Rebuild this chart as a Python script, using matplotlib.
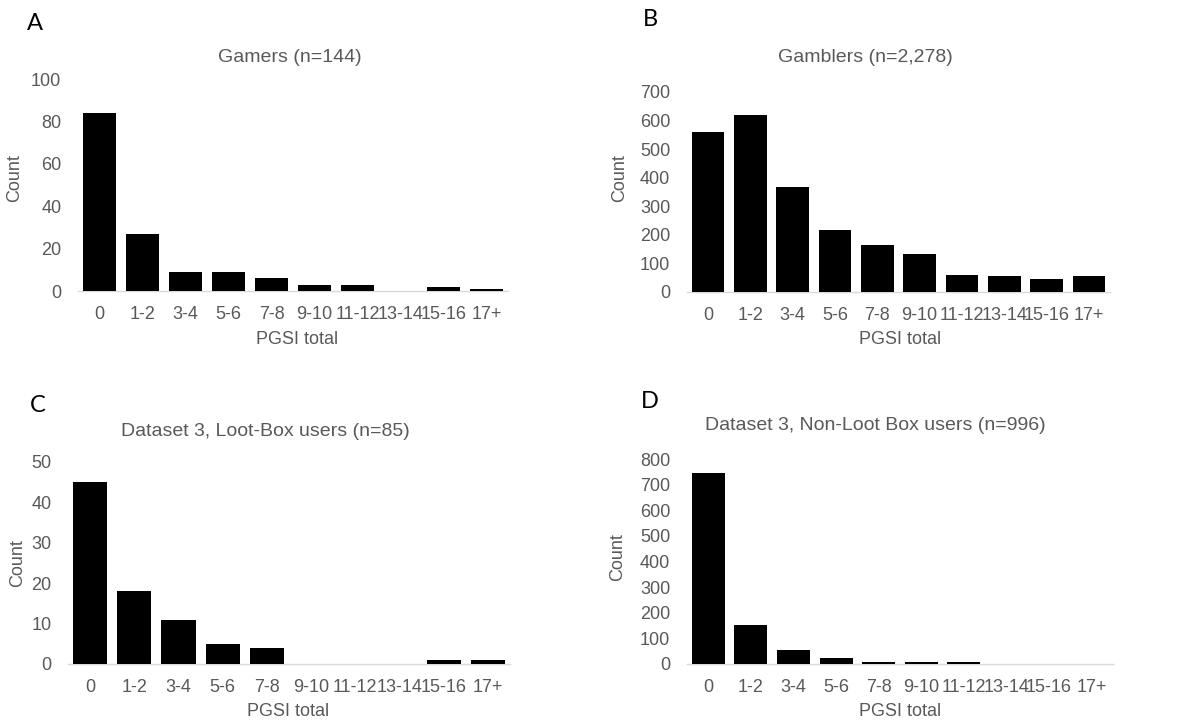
import matplotlib.pyplot as plt

# PGSI categories shared by all four panels
categories = ['0', '1-2', '3-4', '5-6', '7-8', '9-10', '11-12', '13-14', '15-16', '17+']

# counts per panel
gamers = [84, 27, 9, 9, 6, 3, 3, 0, 2, 1]
gamblers = [560, 621, 367, 216, 165, 133, 60, 56, 44, 56]
lootbox_users = [45, 18, 11, 5, 4, 0, 0, 0, 1, 1]
non_lootbox_users = [745, 152, 55, 25, 7, 6, 6, 0, 0, 0]

plt.rcParams['font.family'] = ['Liberation Sans', 'DejaVu Sans']
grey = '#595959'

W, H = 1185, 723
fig = plt.figure(figsize=(W / 100, H / 100), dpi=100)


def px_axes(left, right, top, bottom):
    return fig.add_axes([left / W, 1 - bottom / H, (right - left) / W, (bottom - top) / H])


def ftext(x, y, s, **kw):
    fig.text(x / W, 1 - y / H, s, ha='center', va='center', **kw)


panels = [
    # letter, letter pos, title, title pos, values, axes box, ymax, step, ylabel pos, xlabel pos
    ('A', (35, 23), 'Gamers (n=144)', (290, 58), gamers, (78, 508, 79, 291), 100, 20, (15, 178), (297, 339)),
    ('B', (650, 20), 'Gamblers (n=2,278)', (865, 58), gamblers, (687, 1110, 92, 292), 700, 100, (620, 178), (900, 340)),
    ('C', (38, 405), 'Dataset 3, Loot-Box users (n=85)', (265, 432), lootbox_users, (68, 510, 462, 664), 50, 10, (18, 563), (288, 712)),
    ('D', (650, 402), 'Dataset 3, Non-Loot Box users (n=996)', (875, 426), non_lootbox_users, (687, 1113, 459, 664), 800, 100, (618, 557), (900, 712)),
]

for letter, lpos, title, tpos, values, box, ymax, step, ylpos, xlpos in panels:
    ax = px_axes(*box)
    x = range(len(categories))
    ax.bar(x, values, width=0.77, color='black', zorder=3)
    ax.set_xlim(-0.5, len(categories) - 0.5)
    ax.set_ylim(0, ymax)
    ax.set_yticks(range(0, ymax + 1, step))
    ax.set_xticks(list(x))
    ax.set_xticklabels(categories)
    ax.tick_params(axis='both', length=0, labelsize=13, colors=grey)
    ax.tick_params(axis='x', pad=11)
    ax.tick_params(axis='y', pad=12)
    for s in ['top', 'right', 'left']:
        ax.spines[s].set_visible(False)
    ax.spines['bottom'].set_color('#d9d9d9')
    ax.spines['bottom'].set_linewidth(1)

    ftext(*lpos, letter, fontsize=17, color='black', family=['Lato', 'DejaVu Sans'])
    ftext(*tpos, title, fontsize=14, color=grey)
    ftext(*ylpos, 'Count', fontsize=13, color=grey, rotation=90)
    ftext(*xlpos, 'PGSI total', fontsize=13, color=grey)

fig.savefig('out.png', dpi=100)
